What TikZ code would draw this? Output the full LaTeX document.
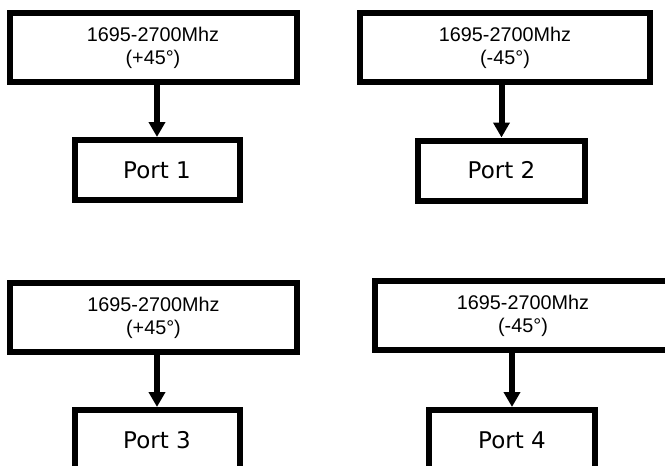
\documentclass[tikz,border=0pt]{standalone}
\usepackage{fontspec}
\usepackage{tikz}
\usetikzlibrary{arrows.meta}
\newfontfamily\bandfont{Liberation Sans}
\newfontfamily\portfont{DejaVu Sans}
\tikzset{
    band-box/.style = {draw=black, fill=white, line width=6pt, rectangle, minimum width=287pt, minimum height=69pt, inner sep=0pt, align=center, font=\bandfont\fontsize{19.8}{23}\selectfont},
    port-box/.style = {draw=black, fill=white, line width=6pt, rectangle, minimum width=165pt, minimum height=60pt, inner sep=0pt, font=\portfont\fontsize{23}{27}\selectfont},
    feed/.style = {line width=6pt, -{Triangle[width=16pt,length=15pt]}},
}

\begin{document}
\begin{tikzpicture}[x=1pt, y=-1pt]
\clip (0,0) rectangle (665,466);
\node [band-box] (band1) at (153,47.5) {1695-2700Mhz\\(+45°)};
\node [band-box, minimum width=290pt] (band2) at (505,47.5) {1695-2700Mhz\\(-45°)};
\node [band-box] (band3) at (153.5,317.5) {1695-2700Mhz\\(+45°)};
\node [band-box, minimum width=296pt] (band4) at (523,315.5) {1695-2700Mhz\\(-45°)};
\node [port-box] (port1) at (157,170) {Port 1};
\node [port-box, minimum width=167pt] (port2) at (501.5,170.5) {Port 2};
\node [port-box] (port3) at (157,440) {Port 3};
\node [port-box, minimum width=166pt] (port4) at (512,440) {Port 4};
\draw [feed] (port1.north |- band1.south) -- (port1.north);
\draw [feed] (port2.north |- band2.south) -- (port2.north);
\draw [feed] (port3.north |- band3.south) -- (port3.north);
\draw [feed] (port4.north |- band4.south) -- (port4.north);
\end{tikzpicture}
\end{document}
